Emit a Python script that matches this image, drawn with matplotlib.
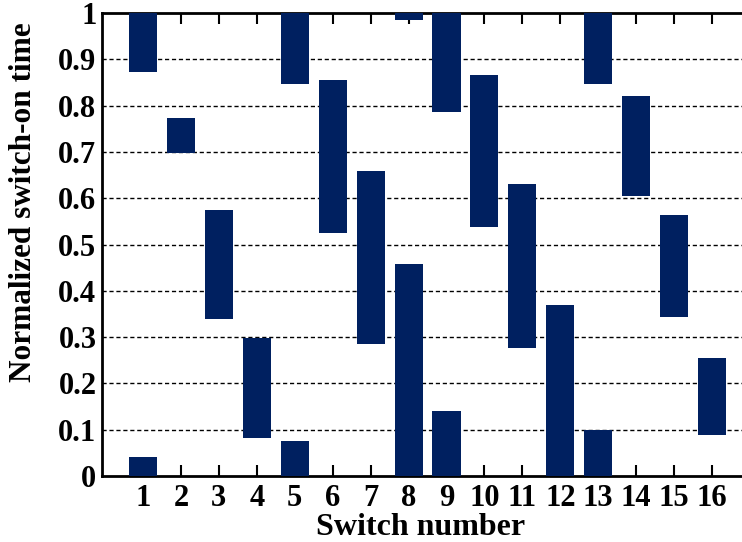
import matplotlib
matplotlib.use("Agg")
import matplotlib.pyplot as plt
import numpy as np

# normalized switch-on interval per switch (end < start means it wraps past 1)
switches = list(range(1, 17))
on_start = [0.873, 0.698, 0.340, 0.083, 0.847, 0.526, 0.286, 0.985,
            0.786, 0.538, 0.277, 0.000, 0.847, 0.605, 0.344, 0.089]
on_end = [0.041, 0.773, 0.575, 0.299, 0.076, 0.855, 0.659, 0.458,
          0.140, 0.866, 0.631, 0.370, 0.099, 0.821, 0.564, 0.255]

bar_color = '#002060'

plt.rcParams['font.family'] = ['Liberation Serif', 'DejaVu Serif']
plt.rcParams['font.weight'] = 'bold'

fig = plt.figure(figsize=(7.42, 5.42), dpi=100)
ax = fig.add_axes([0.1375, 0.1218, 0.8625, 0.854])

# split wrapping intervals into two segments
xs, bottoms, heights = [], [], []
for s, a, b in zip(switches, on_start, on_end):
    if b >= a:
        xs.append(s); bottoms.append(a); heights.append(b - a)
    else:
        xs.append(s); bottoms.append(a); heights.append(1.0 - a)
        xs.append(s); bottoms.append(0.0); heights.append(b)

ax.bar(xs, heights, bottom=bottoms, width=0.74, color=bar_color, zorder=3)

ax.set_xlim(-0.08, 16.79)
ax.set_ylim(0, 1)
ax.set_xticks(switches)
ax.set_xticklabels([str(s) for s in switches])
ax.set_yticks(np.arange(0, 1.01, 0.1))
ax.set_yticklabels(['0'] + ['%.1f' % v for v in np.arange(0.1, 0.95, 0.1)] + ['1'])

for v in np.arange(0.1, 0.95, 0.1):
    ax.axhline(v, color='black', linestyle=(0, (3, 2)), linewidth=1.0, zorder=2)

ax.tick_params(axis='x', direction='in', top=True, bottom=True, length=8, width=1.5,
               labelsize=22, pad=6)
ax.tick_params(axis='y', length=0, labelsize=22, pad=4)

for side in ['left', 'bottom', 'top']:
    ax.spines[side].set_linewidth(2)
ax.spines['right'].set_visible(False)

ax.set_xlabel('Switch number', fontsize=23, fontweight='bold')
ax.set_ylabel('Normalized switch-on time', fontsize=22.5, fontweight='bold')
ax.xaxis.set_label_coords(0.497, -0.08)
ax.yaxis.set_label_coords(-0.100, 0.592)

fig.savefig('out.png', dpi=100)
